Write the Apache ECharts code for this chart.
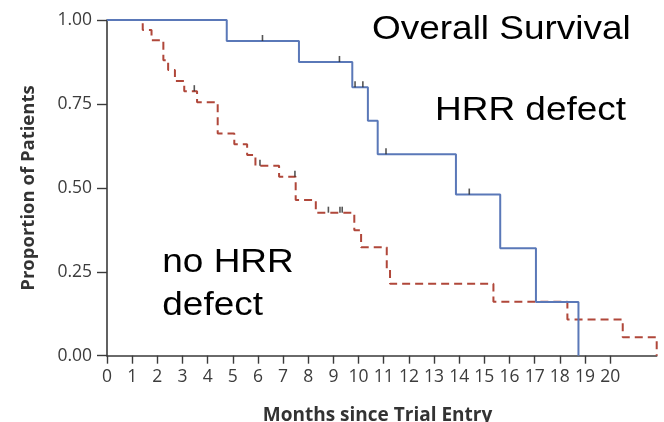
<!DOCTYPE html>
<html>
<head>
<meta charset="utf-8">
<script src="https://cdn.jsdelivr.net/npm/echarts@6/dist/echarts.min.js"></script>
<style>
html,body{margin:0;padding:0;background:#fff;}
#chart{width:664px;height:422px;}
</style>
</head>
<body>
<div id="chart"></div>
<script>
// ---- data ----
var hrrMonths   = [0, 4.76, 7.63, 9.75, 10.37, 10.76, 13.87, 15.63, 17.05, 18.74];
var hrrSurv     = [1, 0.9375, 0.875, 0.80, 0.70, 0.60, 0.48, 0.32, 0.16, 0];
var hrrCensMonths = [6.18, 9.24, 9.86, 10.17, 11.09, 14.4];
var hrrCensSurv   = [0.9375, 0.875, 0.80, 0.80, 0.60, 0.48];

var noHrrMonths = [0, 1.42, 1.77, 2.24, 2.43, 2.70, 3.07, 3.58, 4.40, 5.06, 5.57, 5.90, 6.84, 7.50, 8.30, 9.83, 10.10, 11.12, 11.25, 15.36, 18.30, 20.50, 21.85];
var noHrrSurv   = [1, 0.97, 0.94, 0.88, 0.851, 0.818, 0.788, 0.755, 0.662, 0.63, 0.598, 0.566, 0.533, 0.464, 0.426, 0.374, 0.323, 0.26, 0.214, 0.161, 0.108, 0.055, 0];
var noHrrCensMonths = [3.47, 6.08, 7.47, 8.80, 9.26, 9.35];
var noHrrCensSurv   = [0.788, 0.566, 0.533, 0.426, 0.426, 0.426];

var xTickValues = [0,1,2,3,4,5,6,7,8,9,10,11,12,13,14,15,16,17,18,19,20];
var yTickValues = [0, 0.25, 0.5, 0.75, 1];

var titleText = 'Overall Survival';
var hrrLabel = 'HRR defect';
var noHrrLabel1 = 'no HRR';
var noHrrLabel2 = 'defect';
var xName = 'Months since Trial Entry';
var yName = 'Proportion of Patients';

function zip(a, b) { return a.map(function (v, i) { return [v, b[i]]; }); }

var axisColor = '#3a3a3a';
var labelStyle = { color: '#3c3c3c', fontFamily: 'Open Sans', fontSize: 17.5 };

var chart = echarts.init(document.getElementById('chart'), null, { renderer: 'canvas' });
chart.setOption({
  animation: false,
  backgroundColor: '#ffffff',
  grid: { left: 107, top: 20, right: 7.3, bottom: 66.3, containLabel: false, outerBoundsMode: 'none' },
  xAxis: {
    type: 'value', min: 0, max: 21.85,
    splitLine: { show: false },
    axisLine: { show: true, onZero: false, lineStyle: { color: axisColor, width: 1.6 } },
    axisTick: { show: true, customValues: xTickValues, length: 8, lineStyle: { color: axisColor, width: 1.4 } },
    axisLabel: Object.assign({ customValues: xTickValues, margin: 12 }, labelStyle)
  },
  yAxis: {
    type: 'value', min: 0, max: 1, interval: 0.25,
    splitLine: { show: false },
    axisLine: { show: true, onZero: false, lineStyle: { color: axisColor, width: 1.6 } },
    axisTick: { show: true, length: 10, lineStyle: { color: axisColor, width: 1.4 } },
    axisLabel: Object.assign({ margin: 15, formatter: function (v) { return v.toFixed(2); } }, labelStyle)
  },
  series: [
    {
      name: 'no HRR defect', type: 'line', step: 'end', showSymbol: false, clip: false,
      data: zip(noHrrMonths, noHrrSurv),
      lineStyle: { color: '#b0473a', width: 2, type: [8, 5] },
      z: 2
    },
    {
      name: 'HRR defect', type: 'line', step: 'end', showSymbol: false, clip: false,
      data: zip(hrrMonths, hrrSurv),
      lineStyle: { color: '#5a78b8', width: 2 },
      z: 3
    },
    {
      name: 'censored HRR', type: 'scatter', symbol: 'rect', symbolSize: [1.6, 6], symbolOffset: [0, -3],
      data: zip(hrrCensMonths, hrrCensSurv),
      itemStyle: { color: '#2a2a2a' }, z: 4
    },
    {
      name: 'censored no HRR', type: 'scatter', symbol: 'rect', symbolSize: [1.6, 6], symbolOffset: [0, -3],
      data: zip(noHrrCensMonths, noHrrCensSurv),
      itemStyle: { color: '#2a2a2a' }, z: 4
    }
  ],
  graphic: [
    { type: 'text', x: 372, y: 29.5, scaleX: 1.12, style: { text: titleText, fontFamily: 'Liberation Sans', fontSize: 33, fill: '#000', textAlign: 'left', textVerticalAlign: 'middle' } },
    { type: 'text', x: 435, y: 111, scaleX: 1.12, style: { text: hrrLabel, fontFamily: 'Liberation Sans', fontSize: 33, fill: '#000', textAlign: 'left', textVerticalAlign: 'middle' } },
    { type: 'text', x: 162.3, y: 262.5, scaleX: 1.12, style: { text: noHrrLabel1, fontFamily: 'Liberation Sans', fontSize: 33, fill: '#000', textAlign: 'left', textVerticalAlign: 'middle' } },
    { type: 'text', x: 162.3, y: 306, scaleX: 1.12, style: { text: noHrrLabel2, fontFamily: 'Liberation Sans', fontSize: 33, fill: '#000', textAlign: 'left', textVerticalAlign: 'middle' } },
    { type: 'text', x: 377.5, y: 416, style: { text: xName, fontFamily: 'Open Sans', fontWeight: 'bold', fontSize: 19, fill: '#333', textAlign: 'center', textVerticalAlign: 'middle' } },
    { type: 'text', x: 29, y: 188, rotation: Math.PI / 2, style: { text: yName, fontFamily: 'Open Sans', fontWeight: 'bold', fontSize: 18.5, fill: '#333', textAlign: 'center', textVerticalAlign: 'middle' } }
  ]
});
</script>
</body>
</html>
